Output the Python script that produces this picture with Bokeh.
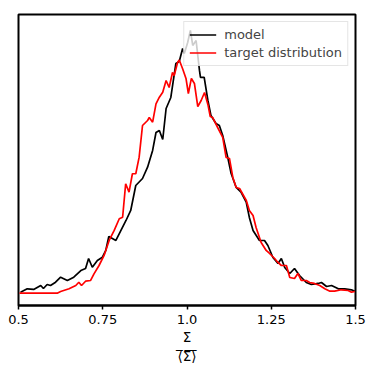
from bokeh.plotting import figure
from bokeh.models import Range1d, FixedTicker
from bokeh.embed import file_html
from bokeh.resources import INLINE

# model histogram (normalised)
model_x = [0.506, 0.526, 0.545, 0.566, 0.574, 0.585, 0.595, 0.610, 0.625, 0.645,
           0.664, 0.685, 0.699, 0.708, 0.719, 0.734, 0.749, 0.759, 0.768, 0.789,
           0.804, 0.819, 0.833, 0.848, 0.868, 0.883, 0.898, 0.908, 0.918, 0.928,
           0.938, 0.952, 0.967, 0.977, 0.987, 0.992, 1.002, 1.010, 1.017, 1.027,
           1.037, 1.040, 1.051, 1.062, 1.071, 1.086, 1.096, 1.106, 1.121, 1.131,
           1.146, 1.161, 1.176, 1.185, 1.196, 1.215, 1.230, 1.240, 1.255, 1.270,
           1.280, 1.290, 1.305, 1.319, 1.334, 1.354, 1.369, 1.389, 1.399, 1.414,
           1.429, 1.449, 1.468, 1.488, 1.498]
model_y = [0.020, 0.071, 0.061, 0.121, 0.076, 0.136, 0.121, 0.171, 0.247, 0.197,
           0.247, 0.348, 0.379, 0.530, 0.398, 0.500, 0.550, 0.652, 0.864, 0.803,
           0.955, 1.106, 1.258, 1.636, 1.742, 1.914, 2.167, 2.439, 2.470, 2.333,
           2.803, 2.970, 3.485, 3.515, 3.712, 3.636, 3.803, 3.985, 3.758, 3.833,
           3.379, 3.273, 3.273, 2.924, 2.697, 2.576, 2.545, 2.394, 2.061, 1.818,
           1.606, 1.530, 1.379, 1.152, 0.955, 0.803, 0.803, 0.727, 0.545, 0.455,
           0.530, 0.394, 0.303, 0.379, 0.273, 0.167, 0.136, 0.152, 0.167, 0.106,
           0.121, 0.071, 0.071, 0.056, 0.035]

# target distribution histogram (normalised)
target_x = [0.503, 0.585, 0.615, 0.625, 0.650, 0.670, 0.679, 0.687, 0.699, 0.714,
            0.724, 0.739, 0.754, 0.769, 0.784, 0.799, 0.809, 0.818, 0.828, 0.838,
            0.848, 0.858, 0.868, 0.883, 0.888, 0.898, 0.908, 0.918, 0.928, 0.938,
            0.947, 0.957, 0.962, 0.972, 0.977, 0.987, 0.997, 1.004, 1.013, 1.022,
            1.032, 1.042, 1.052, 1.062, 1.069, 1.076, 1.091, 1.106, 1.116, 1.126,
            1.136, 1.146, 1.156, 1.176, 1.185, 1.196, 1.205, 1.220, 1.235, 1.245,
            1.260, 1.270, 1.280, 1.295, 1.305, 1.319, 1.329, 1.339, 1.354, 1.364,
            1.378, 1.394, 1.409, 1.424, 1.438, 1.458, 1.478, 1.488, 1.498]
target_y = [0.005, 0.005, 0.005, 0.030, 0.071, 0.121, 0.171, 0.121, 0.186, 0.197,
            0.298, 0.424, 0.576, 0.803, 0.955, 1.132, 1.156, 1.662, 1.535, 1.814,
            1.814, 2.065, 2.545, 2.621, 2.667, 2.595, 2.874, 2.974, 3.050, 3.227,
            3.121, 3.348, 3.303, 3.500, 3.538, 3.405, 3.258, 3.030, 3.258, 3.182,
            2.833, 2.924, 3.045, 2.864, 2.682, 2.667, 2.515, 2.364, 2.061, 2.045,
            1.758, 1.606, 1.591, 1.409, 1.258, 1.182, 1.000, 0.773, 0.652, 0.606,
            0.530, 0.470, 0.424, 0.424, 0.242, 0.227, 0.303, 0.197, 0.197, 0.167,
            0.152, 0.121, 0.071, 0.035, 0.035, 0.056, 0.045, 0.020, 0.030]

tick_values = [0.5, 0.75, 1.0, 1.25, 1.5]
tick_labels = ["0.5", "0.75", "1.0", "1.25", "1.5"]
series_names = ["model", "target distribution"]
# x label: fraction Σ over ⟨Σ⟩ (combining overline draws the fraction bar)
x_label = "Σ\n⟨\u0305Σ\u0305⟩\u0305"

FONT = "DejaVu Sans"

p = figure(width=374, height=374, output_backend="svg", toolbar_location=None,
           x_range=Range1d(0.5, 1.5), y_range=Range1d(-0.182, 4.227),
           min_border_left=18, min_border_right=19, min_border_top=14,
           min_border_bottom=69)
p.yaxis.visible = False
p.xgrid.visible = False
p.ygrid.visible = False
p.outline_line_color = "black"
p.outline_line_width = 2
p.background_fill_color = "white"
p.border_fill_color = "white"

ax = p.xaxis[0]
ax.ticker = FixedTicker(ticks=tick_values)
ax.major_label_overrides = {v: s for v, s in zip(tick_values, tick_labels)}
ax.axis_line_width = 2
ax.axis_line_color = "black"
ax.major_tick_line_width = 1.5
ax.major_tick_out = 4
ax.major_tick_in = 0
ax.minor_tick_line_color = None
ax.major_label_text_font = FONT
ax.major_label_text_font_size = "13px"
ax.major_label_text_color = "black"
ax.major_label_standoff = 5
ax.axis_label = x_label
ax.axis_label_text_font = FONT
ax.axis_label_text_font_style = "normal"
ax.axis_label_text_font_size = "13.5px"
ax.axis_label_text_color = "black"
ax.axis_label_standoff = 2

p.line(model_x, model_y, line_color="black", line_width=1.7, legend_label=series_names[0])
p.line(target_x, target_y, line_color="#ff0000", line_width=1.7, legend_label=series_names[1])

lg = p.legend[0]
lg.location = "top_right"
lg.margin = 7
lg.padding = 5
lg.spacing = 3
lg.glyph_width = 27
lg.glyph_height = 15
lg.label_height = 15
lg.label_standoff = 8
lg.label_text_font = FONT
lg.label_text_font_size = "13px"
lg.border_line_color = "#cccccc"
lg.border_line_width = 1
lg.background_fill_color = "white"
lg.background_fill_alpha = 0.8

open("out.html", "w").write(file_html(p, INLINE))
